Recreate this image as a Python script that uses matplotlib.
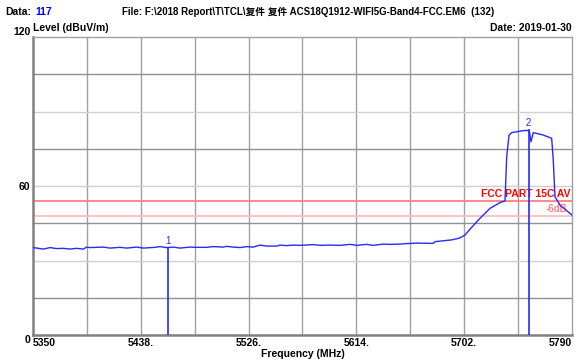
import matplotlib
matplotlib.use("Agg")
import matplotlib.pyplot as plt

plt.rcParams["font.family"] = ["Liberation Sans", "Noto Sans CJK SC", "DejaVu Sans"]

# trace (MHz, dBuV/m)
freq = [5350.3, 5354.3, 5358.4, 5363.9, 5369.3, 5374.7, 5380.2, 5385.6, 5391.1, 5393.8,
        5396.5, 5407.4, 5412.9, 5421.0, 5426.5, 5434.7, 5440.0, 5449.6, 5453.7, 5459.1,
        5464.5, 5470.0, 5478.2, 5483.6, 5491.8, 5497.2, 5505.3, 5508.1, 5513.5, 5519.0,
        5524.4, 5529.8, 5535.3, 5540.8, 5548.9, 5551.6, 5557.1, 5562.5, 5568.0, 5578.8,
        5584.3, 5592.4, 5600.6, 5608.8, 5614.2, 5622.4, 5627.8, 5636.0, 5641.4, 5649.6,
        5655.0, 5663.2, 5676.8, 5678.2, 5691.8, 5698.0, 5702.6, 5706.7, 5714.9, 5723.1,
        5731.2, 5735.3, 5736.7, 5738.6, 5740.8, 5750.2, 5755.1, 5756.5, 5758.4, 5766.6,
        5773.4, 5774.7, 5776.1, 5780.2, 5788.3, 5790.0]
level = [35.2, 34.9, 34.6, 35.2, 34.8, 34.9, 34.6, 34.9, 34.6, 35.4,
         35.2, 35.4, 35.0, 35.3, 35.0, 35.4, 35.0, 35.3, 35.6, 35.2,
         35.4, 35.0, 35.4, 35.3, 35.3, 35.6, 35.4, 35.7, 35.4, 35.2,
         35.6, 35.4, 36.2, 35.8, 35.8, 36.2, 36.0, 36.2, 36.1, 36.4,
         36.1, 36.2, 36.1, 36.5, 36.1, 36.5, 36.1, 36.6, 36.5, 36.6,
         36.8, 37.0, 36.9, 37.6, 38.3, 39.0, 40.2, 42.6, 47.0, 51.0,
         53.3, 54.0, 71.8, 80.5, 81.5, 82.3, 82.4, 77.8, 81.5, 80.5,
         79.2, 70.5, 55.7, 52.3, 49.0, 48.3]

markers = ["1", "2"]
marker_freq = [5460.0, 5754.6]
marker_level = [35.2, 82.4]

limit_av = 54.0
limit_margin = 48.0

xticks = [5350, 5438, 5526, 5614, 5702, 5790]
xtick_labels = ["5350", "5438.", "5526.", "5614.", "5702.", "5790"]
yticks = [0, 60, 120]

fig = plt.figure(figsize=(5.81, 3.62), dpi=100)
ax = fig.add_axes([33 / 581, 27 / 362, 539 / 581, 298 / 362])
ax.set_xlim(5350, 5790)
ax.set_ylim(0, 120)

# grid
for i in range(1, 10):
    ax.axvline(5350 + 44 * i, color="#a0a0a0", lw=1, zorder=1)
for i in range(1, 8):
    c = "#d0d0d0" if i % 2 == 0 else "#909090"
    ax.axhline(15 * i, color=c, lw=1, zorder=1)

# limit lines
ax.axhline(limit_av, color="#ff8080", lw=1.3, zorder=2)
ax.axhline(limit_margin, color="#ffc0c0", lw=1.3, zorder=2)
ax.text(5789, limit_av + 0.6, "FCC PART 15C AV", color="#ff0000", fontsize=7.5,
        fontweight="bold", ha="right", va="bottom", zorder=3)
ax.text(5786, limit_margin + 0.6, "-6dB", color="#ff8080", fontsize=7,
        fontweight="bold", ha="right", va="bottom", zorder=3)

ax.plot(freq, level, color="#2828ff", lw=1, zorder=4)

for name, f, lv in zip(markers, marker_freq, marker_level):
    ax.plot([f, f], [0, lv], color="#2828ff", lw=1.2, zorder=5)
    ax.text(f, lv + 0.8, name, color="#2828ff", fontsize=7, ha="center", va="bottom", zorder=5)

for side in ["top", "right"]:
    ax.spines[side].set_color("#a0a0a0")
    ax.spines[side].set_linewidth(1)
for side in ["left", "bottom"]:
    ax.spines[side].set_color("#808080")
    ax.spines[side].set_linewidth(1.8)

ax.set_xticks(xticks)
ax.set_xticklabels(xtick_labels, fontsize=7.5, fontweight="bold")
ax.set_yticks(yticks)
ax.set_yticklabels([str(v) for v in yticks], fontsize=7.5, fontweight="bold")
ax.tick_params(length=0, pad=2)
xl = ax.get_xticklabels()
xl[0].set_ha("left")
xl[-1].set_ha("right")
yl = ax.get_yticklabels()
yl[0].set_va("top")
yl[-1].set_va("bottom")
ax.set_xlabel("Frequency (MHz)", fontsize=7.5, fontweight="bold", labelpad=1)

fig.text(5 / 581, 1 - 12 / 362, "Data:", fontsize=7.5, fontweight="bold", va="center")
fig.text(35 / 581, 1 - 12 / 362, "117", fontsize=7.5, fontweight="bold", color="#0000ff", va="center")
fig.text(122 / 581, 1 - 12 / 362,
         "File: F:\\2018 Report\\T\\TCL\\复件 复件 ACS18Q1912-WIFI5G-Band4-FCC.EM6  (132)",
         fontsize=7.0, fontweight="bold", va="center")
fig.text(33 / 581, 1 - 28 / 362, "Level (dBuV/m)", fontsize=7.5, fontweight="bold", va="center")
fig.text(572 / 581, 1 - 28 / 362, "Date: 2019-01-30", fontsize=7.5, fontweight="bold",
         va="center", ha="right")

fig.savefig("out.png", dpi=100)
